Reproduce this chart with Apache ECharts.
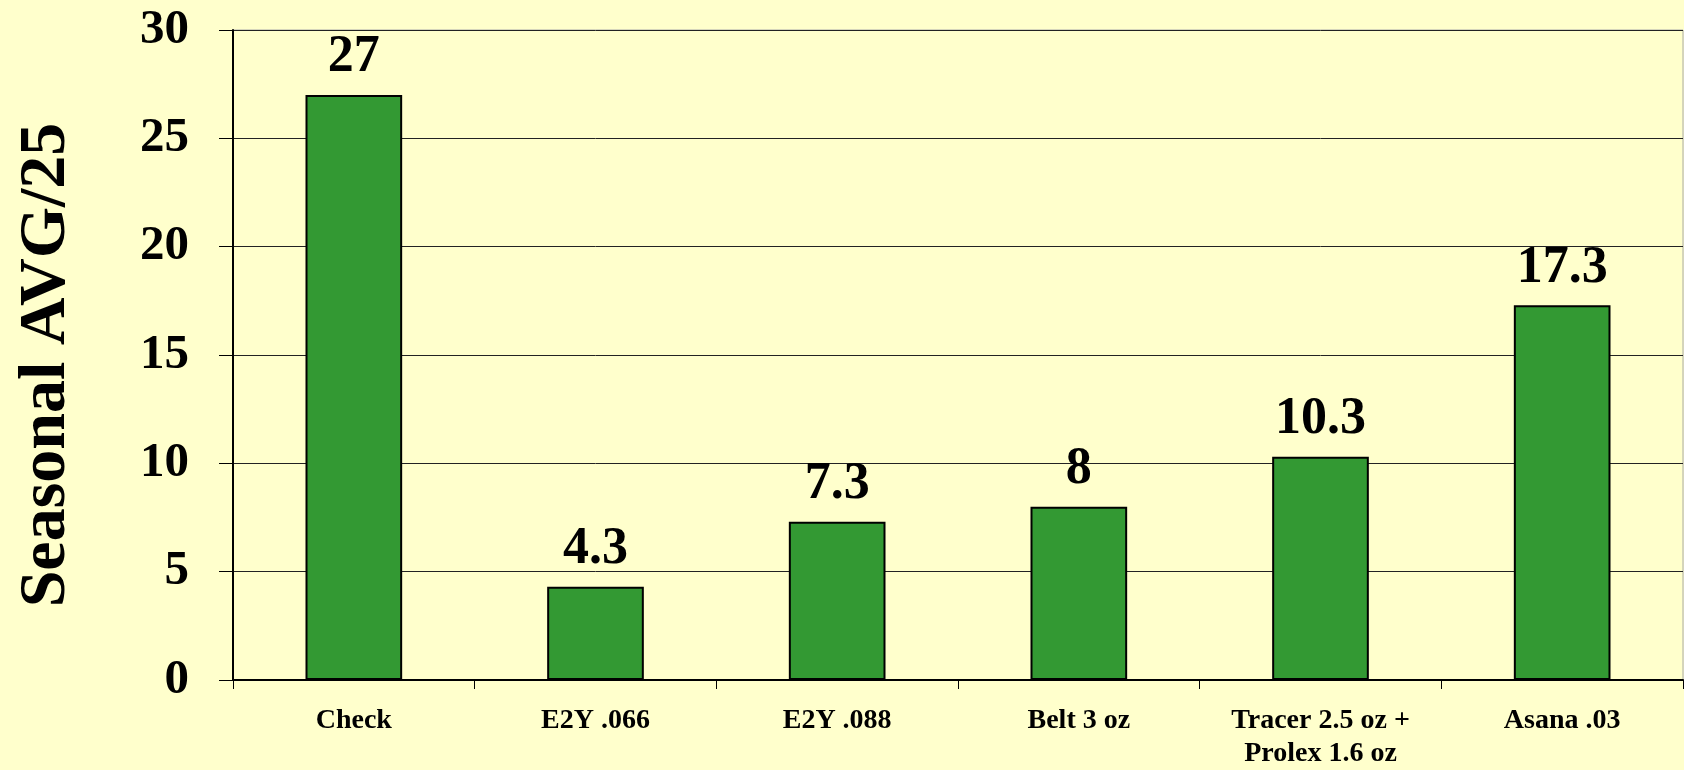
<!DOCTYPE html>
<html>
<head>
<meta charset="utf-8">
<script src="https://cdn.jsdelivr.net/npm/echarts@6/dist/echarts.min.js"></script>
<style>
  html, body { margin: 0; padding: 0; background: #ffffcc; }
  #main { width: 1684px; height: 770px; }
</style>
</head>
<body>
<div id="main"></div>
<script>
var categories = ['Check', 'E2Y .066', 'E2Y .088', 'Belt 3 oz', 'Tracer 2.5 oz +\nProlex 1.6 oz', 'Asana .03'];
var seasonalAvg = [27, 4.3, 7.3, 8, 10.3, 17.3];
var serif = "'Liberation Serif', 'Times New Roman', serif";

var chartDom = document.getElementById('main');
var myChart = echarts.init(chartDom);
var option;

option = {
  backgroundColor: '#ffffcc',
  animation: false,
  grid: {
    left: 233,
    top: 30,
    right: 1,
    bottom: 88,
    show: true,
    borderColor: '#aaa',
    borderWidth: 1
  },
  xAxis: {
    type: 'category',
    data: categories,
    axisLine: { lineStyle: { color: '#000', width: 2 } },
    axisTick: { show: true, length: 9, lineStyle: { color: '#000', width: 1 } },
    axisLabel: {
      interval: 0,
      margin: 24,
      color: '#000',
      fontFamily: serif,
      fontWeight: 'bold',
      fontSize: 28,
      lineHeight: 33
    }
  },
  yAxis: {
    type: 'value',
    min: 0,
    max: 30,
    interval: 5,
    name: 'Seasonal AVG/25',
    nameLocation: 'middle',
    nameRotate: 90,
    nameGap: 153,
    nameTextStyle: {
      color: '#000',
      fontFamily: serif,
      fontWeight: 'bold',
      fontSize: 66,
      padding: [0, 20, 0, 0]
    },
    axisLine: { show: true, lineStyle: { color: '#000', width: 2 } },
    axisTick: { show: true, inside: false, length: 14, lineStyle: { color: '#000', width: 1 } },
    axisLabel: {
      margin: 44,
      color: '#000',
      fontFamily: serif,
      fontWeight: 'bold',
      fontSize: 49
    },
    splitLine: { show: true, lineStyle: { color: '#222', width: 1 } }
  },
  series: [
    {
      name: 'Seasonal AVG/25',
      type: 'bar',
      data: seasonalAvg,
      barWidth: '40%',
      itemStyle: {
        color: '#339933',
        borderColor: '#000',
        borderWidth: 2
      },
      label: {
        show: true,
        position: 'top',
        distance: 11,
        color: '#000',
        fontFamily: serif,
        fontWeight: 'bold',
        fontSize: 52
      }
    }
  ]
};

option && myChart.setOption(option);
</script>
</body>
</html>
